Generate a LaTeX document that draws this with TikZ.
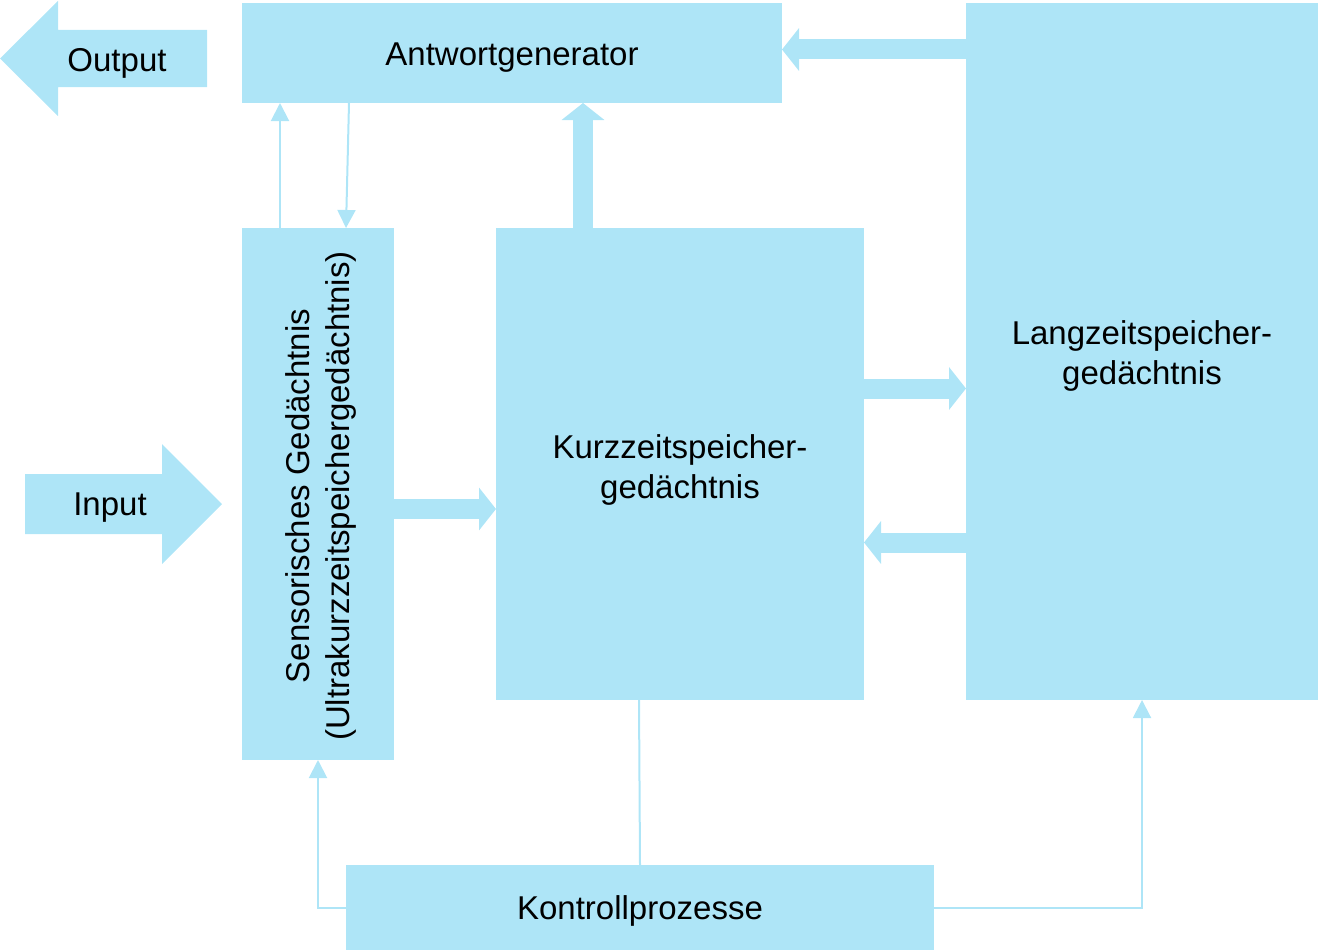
\documentclass[tikz,border=0pt]{standalone}
\usepackage{fontspec}
\setmainfont{Liberation Sans}
\usetikzlibrary{arrows.meta}
\definecolor{lb}{RGB}{174,229,247}
\tikzset{
  box/.style={fill=lb, draw=none, inner sep=0pt, outer sep=0pt, anchor=north west},
  lbl/.style={text=black, align=center, font=\fontsize{33}{40}\selectfont, inner sep=0pt},
  fat/.style={draw=lb, line width=20pt, -{Triangle[width=42pt,length=17pt]}},
  slim/.style={draw=lb, line width=2pt, -{Triangle[width=18pt,length=18pt]}},
  slimline/.style={draw=lb, line width=2pt}
}
\begin{document}
\begin{tikzpicture}[x=1pt,y=-1pt]
\useasboundingbox (0,0) rectangle (1321,950);
% boxes
\node[box, minimum width=540pt, minimum height=100pt] (antw) at (242,3) {};
\node[lbl] (antwt) at (512,58) {Antwortgenerator};
\node[box, minimum width=352pt, minimum height=697pt] (lang) at (966,3) {};
\node[lbl] (langt) at (1142,356) {Langzeitspeicher-\\gedächtnis};
\node[box, minimum width=368pt, minimum height=472pt] (kurz) at (496,228) {};
\node[lbl] (kurzt) at (680,469.5) {Kurzzeitspeicher-\\gedächtnis};
\node[box, minimum width=152pt, minimum height=532pt] (sens) at (242,228) {};
\node[lbl, rotate=90] (senst) at (321,496) {Sensorisches Gedächtnis\\(Ultrakurzzeitspeichergedächtnis)};
\node[box, minimum width=588pt, minimum height=85pt] (kon) at (346,865) {};
\node[lbl] (kont) at (640,911) {Kontrollprozesse};
% output / input block arrows
\fill[lb] (0,58.5) -- (58,1) -- (58,30) -- (207,30) -- (207,87) -- (58,87) -- (58,116) -- cycle;
\node[lbl] (outt) at (117,63) {Output};
\fill[lb] (25,474) -- (162,474) -- (162,444) -- (222,504) -- (162,564) -- (162,534) -- (25,534) -- cycle;
\node[lbl] (int) at (110,508) {Input};
% fat arrows
\draw[fat] (sens.east |- 0,509) -- (kurz.west |- 0,509);
\draw[fat] (kurz.east |- 0,388.5) -- (lang.west |- 0,388.5);
\draw[fat] (lang.west |- 0,542.5) -- (kurz.east |- 0,542.5);
\draw[fat] (lang.west |- 0,49.5) -- (antw.east |- 0,49.5);
\draw[fat] (583,0 |- kurz.north) -- (583,0 |- antw.south);
% slim arrows
\draw[slim] (280,0 |- sens.north) -- (280,0 |- antw.south);
\draw[slim] (349,0 |- antw.south) -- (346,0 |- sens.north);
\draw[slim] (kon.west) -| (sens.south);
\draw[slim] (kon.east) -| (lang.south);
\draw[slimline] (639,0 |- kurz.south) -- (640,0 |- kon.north);
\end{tikzpicture}
\end{document}
